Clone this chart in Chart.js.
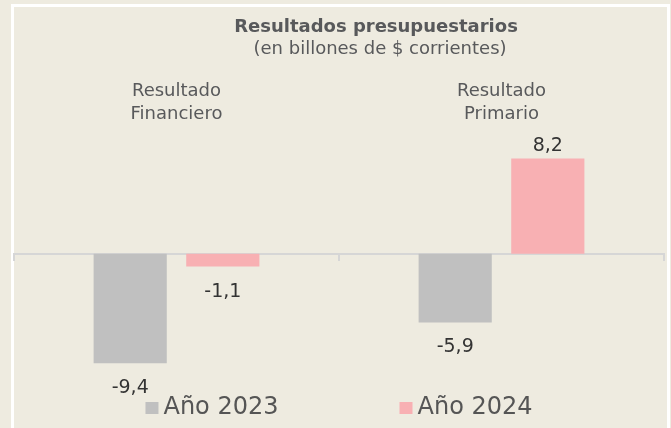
<!DOCTYPE html>
<html>
<head>
<meta charset="utf-8">
<script src="https://cdn.jsdelivr.net/npm/chart.js@4"></script>
<style>
  html, body { margin: 0; padding: 0; background: #eeebe0; overflow: hidden; }
  #frame {
    position: absolute; left: 11px; top: 4px; width: 659px; height: 440px;
    box-sizing: border-box; border: 3px solid #ffffff;
  }
  #wrap { position: absolute; left: 0; top: 0; width: 671px; height: 428px; }
</style>
</head>
<body>
<div id="frame"></div>
<div id="wrap"><canvas id="chart" width="671" height="428"></canvas></div>
<script>
const categories = [["Resultado", "Financiero"], ["Resultado", "Primario"]];
const seriesNames = ["Año 2023", "Año 2024"];
const values2023 = [-9.4, -5.9];
const values2024 = [-1.1, 8.2];
const seriesColors = ["#c0c0c0", "#f8b0b3"];
const titleText = "Resultados presupuestarios";
const subtitleText = "(en billones de $ corrientes)";

const FONT = "'DejaVu Sans', sans-serif";

// headings, value labels and legend drawn on the canvas
const labelsPlugin = {
  id: "labels",
  afterDatasetsDraw(chart) {
    const ctx = chart.ctx;
    ctx.save();
    ctx.textAlign = "center";
    ctx.textBaseline = "middle";

    // titles
    ctx.fillStyle = "#58595b";
    ctx.font = "bold 18px " + FONT;
    ctx.fillText(titleText, 376, 27);
    ctx.font = "18px " + FONT;
    ctx.fillText(subtitleText, 380, 49);

    // values
    ctx.fillStyle = "#333333";
    ctx.font = "19px " + FONT;
    chart.data.datasets.forEach((ds, i) => {
      chart.getDatasetMeta(i).data.forEach((bar, j) => {
        const v = ds.data[j];
        const txt = v.toFixed(1).replace(".", ",");
        const y = v < 0 ? bar.y + 25 : bar.y - 12;
        ctx.fillText(txt, bar.x, y);
      });
    });

    // legend
    ctx.font = "24px " + FONT;
    const box = 13, boxGap = 5, itemGap = 121;
    const widths = seriesNames.map(n => box + boxGap + ctx.measureText(n).width);
    const total = widths.reduce((a, b) => a + b, 0) + itemGap * (widths.length - 1);
    let x = (chart.chartArea.left + chart.chartArea.right) / 2 - total / 2;
    const ly = 408;
    ctx.textAlign = "left";
    seriesNames.forEach((n, i) => {
      ctx.fillStyle = seriesColors[i];
      ctx.fillRect(x, ly - 6, box, 12);
      ctx.fillStyle = "#555555";
      ctx.fillText(n, x + box + boxGap, ly);
      x += widths[i] + itemGap;
    });
    ctx.restore();
  }
};

new Chart(document.getElementById("chart"), {
  type: "bar",
  data: {
    labels: categories,
    datasets: [
      { label: seriesNames[0], data: values2023, backgroundColor: seriesColors[0] },
      { label: seriesNames[1], data: values2024, backgroundColor: seriesColors[1] }
    ]
  },
  options: {
    responsive: false,
    animation: false,
    layout: { padding: { left: 14, right: 7, top: 57, bottom: 52 } },
    datasets: { bar: { categoryPercentage: 0.57, barPercentage: 0.79 } },
    plugins: { legend: { display: false }, tooltip: { enabled: false } },
    scales: {
      x: {
        position: "top",
        grid: { display: false, drawTicks: false },
        border: { display: false },
        ticks: {
          color: "#58595b",
          padding: 23,
          maxRotation: 0,
          font: { family: FONT, size: 18, lineHeight: 1.28 }
        }
      },
      x2: {
        type: "category",
        position: { y: 0 },
        offset: true,
        grid: { offset: true, drawOnChartArea: false, tickLength: 6, color: "#d6d6d6", lineWidth: 2 },
        border: { display: true, color: "#d6d6d6", width: 2 },
        ticks: { display: false }
      },
      y: {
        display: false,
        min: -10.5,
        max: 9
      }
    }
  },
  plugins: [labelsPlugin]
});
</script>
</body>
</html>
